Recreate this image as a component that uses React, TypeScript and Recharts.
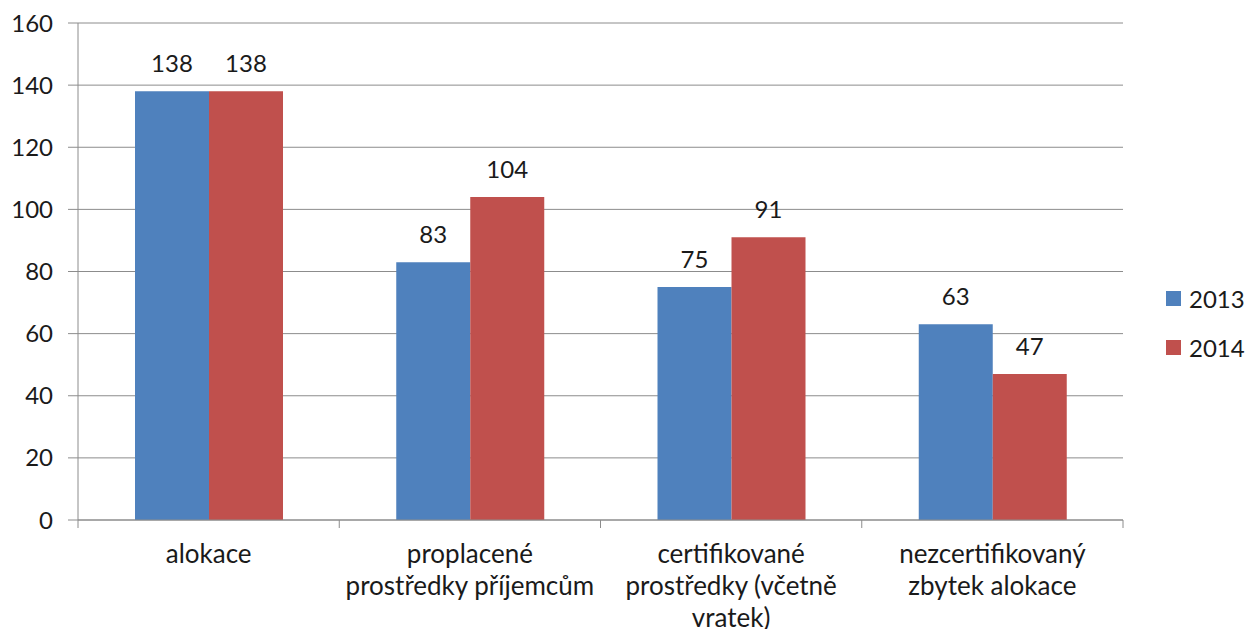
import React from "react";
import { BarChart, Bar, XAxis, YAxis, CartesianGrid, LabelList } from "recharts";

const categories = ["alokace", "proplacené prostředky příjemcům", "certifikované prostředky (včetně vratek)", "nezcertifikovaný zbytek alokace"];
const categoryLines: string[][] = [
  ["alokace"],
  ["proplacené", "prostředky příjemcům"],
  ["certifikované", "prostředky (včetně", "vratek)"],
  ["nezcertifikovaný", "zbytek alokace"],
];
const seriesNames = ["2013", "2014"];
const values2013 = [138, 83, 75, 63];
const values2014 = [138, 104, 91, 47];
const yTicks = [0, 20, 40, 60, 80, 100, 120, 140, 160];

const data = categories.map((c, i) => ({ name: c, y2013: values2013[i], y2014: values2014[i] }));

const FONT = "Lato, 'Open Sans', sans-serif";
const TEXT = "#1a1a1a";
const GRID = "#8c8c8c";
const BLUE = "#4f81bd";
const RED = "#c0504d";
const COLORS = [BLUE, RED];

const PLOT_LEFT = 78;
const PLOT_RIGHT = 1123;
const BAND = (PLOT_RIGHT - PLOT_LEFT) / categories.length;

const XTick = (props: any) => {
  const { x, y, payload } = props;
  const lines = categoryLines[payload.index] || [payload.value];
  return (
    <g>
      <line x1={x - BAND / 2} y1={y - 8} x2={x - BAND / 2} y2={y} stroke={GRID} strokeWidth={1} />
      {payload.index === categories.length - 1 && (
        <line x1={x + BAND / 2} y1={y - 8} x2={x + BAND / 2} y2={y} stroke={GRID} strokeWidth={1} />
      )}
      <text x={x} y={y} textAnchor="middle" fill={TEXT} fontSize={26} fontFamily={FONT}>
        {lines.map((l, i) => (
          <tspan key={i} x={x} dy={i === 0 ? 35 : 32}>{l}</tspan>
        ))}
      </text>
    </g>
  );
};

export default function App() {
  return (
    <div style={{ position: "absolute", left: 0, top: 0, width: 1249, height: 629, background: "#fff" }}>
      <BarChart
        width={1249}
        height={629}
        data={data}
        margin={{ top: 23, right: 126, bottom: 9, left: 18 }}
        barGap={0}
        barCategoryGap={57}
      >
        <CartesianGrid horizontal vertical={false} stroke={GRID} strokeWidth={1} />
        <XAxis
          dataKey="name"
          height={100}
          interval={0}
          tickLine={false}
          axisLine={{ stroke: GRID }}
          tick={<XTick />}
        />
        <YAxis
          width={60}
          domain={[0, 160]}
          ticks={yTicks}
          interval={0}
          tickSize={10}
          tickMargin={15}
          axisLine={{ stroke: GRID }}
          tickLine={{ stroke: GRID }}
          tick={{ fill: TEXT, fontSize: 24, fontFamily: FONT }}
        />
        <Bar dataKey="y2013" name="2013" fill={BLUE} isAnimationActive={false}>
          <LabelList dataKey="y2013" position="top" offset={19} fill={TEXT} fontSize={24} fontFamily={FONT} />
        </Bar>
        <Bar dataKey="y2014" name="2014" fill={RED} isAnimationActive={false}>
          <LabelList dataKey="y2014" position="top" offset={19} fill={TEXT} fontSize={24} fontFamily={FONT} />
        </Bar>
      </BarChart>
      <div style={{ position: "absolute", left: 1166, top: 274, fontFamily: FONT, fontSize: 24, color: TEXT }}>
        {seriesNames.map((label, i) => (
          <div key={label} style={{ display: "flex", alignItems: "center", height: 49 }}>
            <span style={{ display: "inline-block", width: 15, height: 15, background: COLORS[i], marginRight: 8 }} />
            <span>{label}</span>
          </div>
        ))}
      </div>
    </div>
  );
}
